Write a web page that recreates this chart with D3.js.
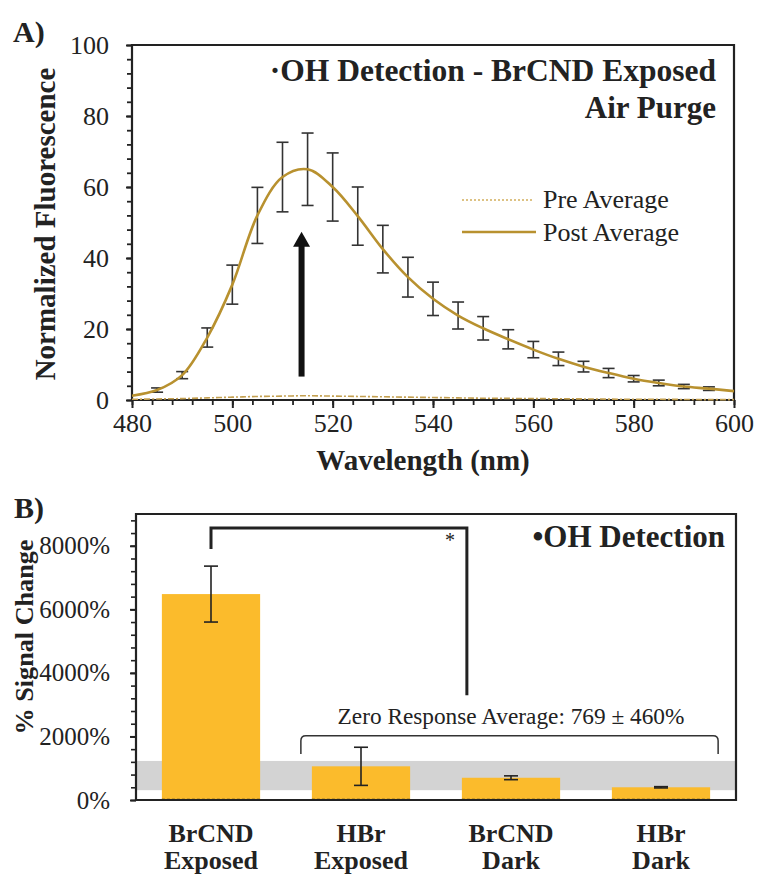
<!DOCTYPE html>
<html><head><meta charset="utf-8">
<script src="https://cdn.jsdelivr.net/npm/d3@7"></script>
<style>
body{margin:0;background:#fff}
svg{display:block}
svg text{font-family:"Liberation Serif","Times New Roman",serif;fill:#222}
</style>
</head><body>
<svg id="c" width="757" height="874"></svg>
<script>
// ---------- Panel A data ----------
const wavelengths = [480,485,490,495,500,505,510,515,520,525,530,535,540,545,550,555,560,565,570,575,580,585,590,595,600];
const postAvg = [1.2,2.8,7.0,17.6,32.5,52.0,62.8,65.0,60.0,51.8,42.5,34.6,28.5,23.8,20.2,17.1,14.2,11.6,9.4,7.6,6.0,4.8,3.8,3.2,2.5];
const postErr = [null,0.6,1.0,2.7,5.5,7.9,9.8,10.2,9.6,8.2,6.7,5.6,4.7,3.8,3.3,2.7,2.3,1.9,1.5,1.3,0.9,0.8,0.6,0.5,null];
const preAvg = [0.2,0.3,0.4,0.6,0.8,1.0,1.1,1.2,1.1,1.0,0.9,0.8,0.7,0.6,0.5,0.45,0.4,0.35,0.3,0.25,0.2,0.2,0.15,0.1,0.1];
const xTicksA = [480,500,520,540,560,580,600];
const yTicksA = [0,20,40,60,80,100];
const seriesNames = ["Pre Average","Post Average"];

// ---------- Panel B data ----------
const categories = [["BrCND","Exposed"],["HBr","Exposed"],["BrCND","Dark"],["HBr","Dark"]];
const signalChange = [6480,1060,700,400];
const signalErr = [880,600,60,20];
const zeroAvg = 769, zeroSd = 460;
const yTicksB = [0,2000,4000,6000,8000];

const FONT = "Liberation Serif";
const svg = d3.select("#c");
const ink = "#222";
const gold = "#B8912F";

function styleText(sel, size){
  return sel.attr("font-size",size).attr("fill",ink).attr("font-family",FONT).style("font-family",FONT);
}

// =============== PANEL A ===============
const A = {l:132, r:734, t:45, b:400};
const xA = d3.scaleLinear().domain([480,600]).range([A.l,A.r]);
const yA = d3.scaleLinear().domain([0,100]).range([A.b,A.t]);
const gA = svg.append("g");

const xMinorA = d3.range(480,601,4);
const yMinorA = d3.range(0,101,4);
gA.append("g").attr("transform",`translate(0,${A.b})`)
  .call(d3.axisBottom(xA).tickValues(xMinorA).tickSize(5).tickFormat(""))
  .call(g=>{g.select(".domain").remove(); g.selectAll("line").attr("stroke",ink).attr("stroke-width",1.8);});
gA.append("g").attr("transform",`translate(${A.l},0)`)
  .call(d3.axisLeft(yA).tickValues(yMinorA).tickSize(5).tickFormat(""))
  .call(g=>{g.select(".domain").remove(); g.selectAll("line").attr("stroke",ink).attr("stroke-width",1.8);});
gA.append("g").attr("transform",`translate(0,${A.b})`)
  .call(d3.axisBottom(xA).tickValues(xTicksA).tickSize(8).tickPadding(6).tickFormat(d3.format("d")))
  .call(g=>{g.attr("font-family",FONT); g.select(".domain").remove(); g.selectAll("line").attr("stroke",ink).attr("stroke-width",2);
    styleText(g.selectAll("text"),26);});
gA.append("g").attr("transform",`translate(${A.l},0)`)
  .call(d3.axisLeft(yA).tickValues(yTicksA).tickSize(6).tickPadding(17).tickFormat(d3.format("d")))
  .call(g=>{g.attr("font-family",FONT); g.select(".domain").remove(); g.selectAll("line").attr("stroke",ink).attr("stroke-width",2);
    styleText(g.selectAll("text"),26);});

gA.append("path").attr("d",`M${A.l},${A.b}V${A.t}H${A.r}V${A.b}H${A.l}`)
  .attr("fill","none").attr("stroke",ink).attr("stroke-width",2.2);

const lineA = d3.line().x((d,i)=>xA(wavelengths[i])).y(d=>yA(d)).curve(d3.curveCatmullRom.alpha(0.5));
gA.append("path").datum(preAvg).attr("d",lineA).attr("fill","none")
  .attr("stroke","#C4A050").attr("stroke-width",1.6).attr("stroke-dasharray","6,2,2,2");

const errData = wavelengths.map((w,i)=>({w,v:postAvg[i],e:postErr[i]})).filter(d=>d.e!=null);
const eb = gA.append("g").attr("stroke","#333").attr("stroke-width",1.6);
errData.forEach(d=>{
  const x = xA(d.w), y1 = yA(d.v+d.e), y0 = yA(d.v-d.e);
  eb.append("line").attr("x1",x).attr("x2",x).attr("y1",y1).attr("y2",y0);
  eb.append("line").attr("x1",x-6).attr("x2",x+6).attr("y1",y1).attr("y2",y1);
  eb.append("line").attr("x1",x-6).attr("x2",x+6).attr("y1",y0).attr("y2",y0);
});

gA.append("path").datum(postAvg).attr("d",lineA).attr("fill","none")
  .attr("stroke",gold).attr("stroke-width",2.6);

const peakW = 513.8;
const ax = xA(peakW), aBot = yA(6.6), aTip = yA(47.4), aBase = yA(43.2);
gA.append("rect").attr("x",ax-3).attr("y",aBase-1).attr("width",6).attr("height",aBot-aBase+1).attr("fill","#111");
gA.append("path").attr("d",`M${ax},${aTip}L${ax+8.5},${aBase}L${ax-8.5},${aBase}Z`).attr("fill","#111");

styleText(gA.append("text").attr("x",716).attr("y",81).attr("text-anchor","end")
  .attr("font-weight","bold").text("·OH Detection - BrCND Exposed"),31.5);
styleText(gA.append("text").attr("x",716).attr("y",118).attr("text-anchor","end")
  .attr("font-weight","bold").text("Air Purge"),31);

const leg = gA.append("g");
leg.append("line").attr("x1",462).attr("x2",533).attr("y1",200).attr("y2",200)
  .attr("stroke","#D2AE5C").attr("stroke-width",1.6).attr("stroke-dasharray","2,2");
styleText(leg.append("text").attr("x",543).attr("y",208).text(seriesNames[0]),26);
leg.append("line").attr("x1",462).attr("x2",536).attr("y1",232).attr("y2",232)
  .attr("stroke",gold).attr("stroke-width",2.6);
styleText(leg.append("text").attr("x",543).attr("y",241).text(seriesNames[1]),26);

styleText(gA.append("text").attr("x",423).attr("y",470).attr("text-anchor","middle")
  .attr("font-weight","bold").text("Wavelength (nm)"),29);
styleText(gA.append("text").attr("transform",`translate(55,224) rotate(-90)`).attr("text-anchor","middle")
  .attr("font-weight","bold").text("Normalized Fluorescence"),29);
styleText(gA.append("text").attr("x",13).attr("y",42).attr("font-weight","bold").text("A)"),30);

// =============== PANEL B ===============
const B = {l:136, r:736, t:514, b:800};
const yB = d3.scaleLinear().domain([0,9000]).range([B.b,B.t]);
const xB = d3.scaleBand().domain(d3.range(categories.length)).range([B.l,B.r]).paddingInner(0.345).paddingOuter(0.1725);
const gB = svg.append("g");

gB.append("rect").attr("x",B.l).attr("width",B.r-B.l)
  .attr("y",yB(zeroAvg+zeroSd)).attr("height",yB(zeroAvg-zeroSd)-yB(zeroAvg+zeroSd))
  .attr("fill","#D3D3D3");

gB.selectAll("rect.bar").data(signalChange).join("rect").attr("class","bar")
  .attr("x",(d,i)=>xB(i)).attr("width",xB.bandwidth())
  .attr("y",d=>yB(d)).attr("height",d=>yB(0)-yB(d)).attr("fill","#FBBB2C");
gB.selectAll("line.bd").data(signalChange).join("line").attr("class","bd")
  .attr("x1",(d,i)=>xB(i)).attr("x2",(d,i)=>xB(i)+xB.bandwidth())
  .attr("y1",yB(0)-1).attr("y2",yB(0)-1).attr("stroke","#A07A20").attr("stroke-width",1.2).attr("stroke-dasharray","3,2");

const ebB = gB.append("g").attr("stroke","#222").attr("stroke-width",1.6);
signalChange.forEach((v,i)=>{
  const x = xB(i)+xB.bandwidth()/2, y1 = yB(v+signalErr[i]), y0 = yB(v-signalErr[i]);
  ebB.append("line").attr("x1",x).attr("x2",x).attr("y1",y1).attr("y2",y0);
  ebB.append("line").attr("x1",x-7).attr("x2",x+7).attr("y1",y1).attr("y2",y1);
  ebB.append("line").attr("x1",x-7).attr("x2",x+7).attr("y1",y0).attr("y2",y0);
});

gB.append("g").attr("transform",`translate(${B.l},0)`)
  .call(d3.axisLeft(yB).tickValues(d3.range(0,9000,400)).tickSize(5).tickFormat(""))
  .call(g=>{g.select(".domain").remove(); g.selectAll("line").attr("stroke",ink).attr("stroke-width",1.6);});
gB.append("g").attr("transform",`translate(${B.l},0)`)
  .call(d3.axisLeft(yB).tickValues(yTicksB).tickSize(6).tickPadding(20).tickFormat(d=>d+"%"))
  .call(g=>{g.attr("font-family",FONT); g.select(".domain").remove(); g.selectAll("line").attr("stroke",ink).attr("stroke-width",2);
    styleText(g.selectAll("text"),25);});

gB.append("path").attr("d",`M${B.l},${B.b}V${B.t}H${B.r}V${B.b}H${B.l}`)
  .attr("fill","none").attr("stroke",ink).attr("stroke-width",2.2);

const c0 = xB(0)+xB.bandwidth()/2, c2 = xB(2)+5;
gB.append("path").attr("d",`M${c0},${yB(7900)}V${yB(8560)}H${c2}V${yB(3300)}`)
  .attr("fill","none").attr("stroke","#222").attr("stroke-width",3);
styleText(gB.append("text").attr("x",c2-17).attr("y",yB(7950)).attr("text-anchor","middle").text("*"),20);

const bx0 = xB(1)-11, bx1 = xB(3)+xB.bandwidth()+8, by = yB(2020), byE = yB(1450);
gB.append("path").attr("d",`M${bx0},${byE}V${by+5}Q${bx0},${by} ${bx0+5},${by}H${bx1-5}Q${bx1},${by} ${bx1},${by+5}V${byE}`)
  .attr("fill","none").attr("stroke","#333").attr("stroke-width",1.5);
styleText(gB.append("text").attr("x",511).attr("y",yB(2400)).attr("text-anchor","middle")
  .text(`Zero Response Average: ${zeroAvg} ± ${zeroSd}%`),23.3);

categories.forEach((c,i)=>{
  const x = xB(i)+xB.bandwidth()/2;
  const t = gB.append("text").attr("text-anchor","middle").attr("font-weight","bold");
  styleText(t,26);
  t.append("tspan").attr("x",x).attr("y",842).text(c[0]);
  t.append("tspan").attr("x",x).attr("y",869).text(c[1]);
});

styleText(gB.append("text").attr("x",725).attr("y",547).attr("text-anchor","end")
  .attr("font-weight","bold").text("•OH Detection"),31);
styleText(gB.append("text").attr("transform",`translate(33,637) rotate(-90)`).attr("text-anchor","middle")
  .attr("font-weight","bold").attr("textLength",195).attr("lengthAdjust","spacingAndGlyphs").text("% Signal Change"),26);
styleText(gB.append("text").attr("x",14).attr("y",518).attr("font-weight","bold").text("B)"),30);
</script>
</body></html>
